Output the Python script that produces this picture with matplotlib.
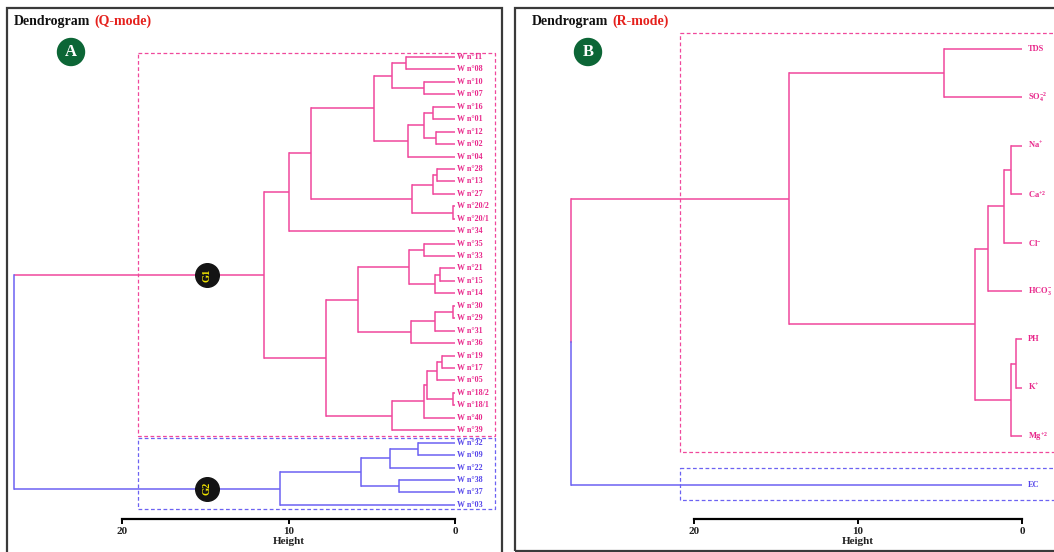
import matplotlib
matplotlib.use("Agg")
import matplotlib.pyplot as plt
import matplotlib.transforms as mtransforms
from matplotlib.patches import Rectangle, Circle

plt.rcParams['font.family'] = ['Liberation Serif', 'DejaVu Serif']
plt.rcParams['font.weight'] = 'bold'
plt.rcParams['mathtext.fontset'] = 'custom'
plt.rcParams['mathtext.rm'] = 'Liberation Serif:bold'
plt.rcParams['mathtext.it'] = 'Liberation Serif:bold'
plt.rcParams['mathtext.bf'] = 'Liberation Serif:bold'

# Q-mode (wells) leaves, top to bottom, and merges (left, right, height)
q_leaves = ['W n°11', 'W n°08', 'W n°10', 'W n°07', 'W n°16', 'W n°01', 'W n°12', 'W n°02',
            'W n°04', 'W n°28', 'W n°13', 'W n°27', 'W n°20/2', 'W n°20/1', 'W n°34',
            'W n°35', 'W n°33', 'W n°21', 'W n°15', 'W n°14', 'W n°30', 'W n°29', 'W n°31',
            'W n°36', 'W n°19', 'W n°17', 'W n°05', 'W n°18/2', 'W n°18/1', 'W n°40',
            'W n°39', 'W n°32', 'W n°09', 'W n°22', 'W n°38', 'W n°37', 'W n°03']
q_group2 = ['W n°32', 'W n°09', 'W n°22', 'W n°38', 'W n°37', 'W n°03']
q_merges = [
    ('W n°11', 'W n°08', 2.94), ('W n°10', 'W n°07', 1.84), (0, 1, 3.80),
    ('W n°16', 'W n°01', 1.30), ('W n°12', 'W n°02', 1.14), (3, 4, 1.84),
    (5, 'W n°04', 2.80), (2, 6, 4.86), ('W n°28', 'W n°13', 1.10),
    (8, 'W n°27', 1.30), ('W n°20/2', 'W n°20/1', 0.14), (9, 10, 2.60),
    (7, 11, 8.65), (12, 'W n°34', 10.0), ('W n°35', 'W n°33', 1.86),
    ('W n°21', 'W n°15', 0.90), (15, 'W n°14', 1.20), (14, 16, 2.76),
    ('W n°30', 'W n°29', 0.14), (18, 'W n°31', 1.20), (19, 'W n°36', 2.66),
    (17, 20, 5.83), ('W n°19', 'W n°17', 0.80), (22, 'W n°05', 1.06),
    ('W n°18/2', 'W n°18/1', 0.14), (23, 24, 1.66), (25, 'W n°40', 1.86),
    (26, 'W n°39', 3.77), (21, 27, 7.75), (13, 28, 11.5),
    ('W n°32', 'W n°09', 2.20), (30, 'W n°22', 3.90), ('W n°38', 'W n°37', 3.36),
    (31, 32, 5.65), (33, 'W n°03', 10.5), (29, 34, 26.5)]

# R-mode (parameters)
r_leaves = ['TDS', 'SO$_4^{-2}$', 'Na$^{+}$', 'Ca$^{+2}$', 'Cl$^{-}$', 'HCO$_3^{-}$',
            'PH', 'K$^{+}$', 'Mg$^{+2}$', 'EC']
r_group2 = ['EC']
r_merges = [
    ('TDS', 'SO$_4^{-2}$', 4.75), ('Na$^{+}$', 'Ca$^{+2}$', 0.69), (1, 'Cl$^{-}$', 1.10),
    (2, 'HCO$_3^{-}$', 2.05), ('PH', 'K$^{+}$', 0.37), (4, 'Mg$^{+2}$', 0.69),
    (3, 5, 2.87), (0, 6, 14.2), (7, 'EC', 27.5)]

height_ticks = [20, 10, 0]

PINK = '#F0489C'
PINK_TXT = '#E8268A'
BLUE = '#6C62F2'
BLUE_TXT = '#5646EA'
GREEN = '#0C6636'
W, H = 1054, 552

fig = plt.figure(figsize=(W / 100, H / 100), dpi=100)


def px_axes(x0, y0, x1, y1):
    return fig.add_axes([x0 / W, 1 - y1 / H, (x1 - x0) / W, (y1 - y0) / H])


def dendro(ax, leaves, merges, group2, fs, root_pink_frac, dx):
    pos = {name: i for i, name in enumerate(leaves)}
    info = {}  # node -> (y, height, is_group2)
    for name in leaves:
        info[name] = (pos[name], 0.0, name in group2)
    for k, (a, b, h) in enumerate(merges):
        ya, ha, ga = info[a]
        yb, hb, gb = info[b]
        ca = BLUE if ga else PINK
        cb = BLUE if gb else PINK
        ax.plot([ha, h], [ya, ya], color=ca, lw=1.1, solid_capstyle='butt')
        ax.plot([hb, h], [yb, yb], color=cb, lw=1.1, solid_capstyle='butt')
        if k == len(merges) - 1:
            # root link: split colour between the two groups
            ym = ya + (yb - ya) * root_pink_frac
            ax.plot([h, h], [ya, ym], color=PINK, lw=1.1)
            ax.plot([h, h], [ym, yb], color=BLUE, lw=1.1)
        else:
            ax.plot([h, h], [ya, yb], color=BLUE if ga else PINK, lw=1.1)
        info[k] = ((ya + yb) / 2, h, ga and gb)
    for name in leaves:
        ax.text(-dx, pos[name], name, color=BLUE_TXT if name in group2 else PINK_TXT,
                fontsize=fs, fontweight='bold', va='center', ha='left')
    return info


def style_axis(ax):
    for s in ['top', 'left', 'right']:
        ax.spines[s].set_visible(False)
    ax.spines['bottom'].set_bounds(0, 20)
    ax.spines['bottom'].set_linewidth(1.6)
    ax.set_xticks(height_ticks)
    ax.set_xticklabels([str(t) for t in height_ticks], fontsize=8, fontweight='bold', color='#222222')
    ax.tick_params(axis='x', direction='out', length=3.5, width=1.4, pad=2)
    ax.set_yticks([])
    ax.set_xlabel('Height', fontsize=8, fontweight='bold', color='#222222')
    trans = mtransforms.blended_transform_factory(ax.transData, ax.transAxes)
    ax.xaxis.set_label_coords(10, -0.036, transform=trans)
    ax.patch.set_alpha(0)


# ---- Panel A (Q-mode) ----
axA = px_axes(7, 8, 503, 519)
xs, x0 = 16.65, 455
axA.set_xlim((x0 - 7) / xs, (x0 - 503) / xs)
axA.set_ylim((519 - 57) / 12.44, (8 - 57) / 12.44)
infoA = dendro(axA, q_leaves, q_merges, q_group2, 5.8, 0.0, 0.12)
axA.add_patch(Rectangle((19.04, -0.32), -21.45, 30.8, fill=False, ec=PINK, lw=0.9, ls=(0, (3, 2))))
axA.add_patch(Rectangle((19.04, 30.62), -21.45, 5.72, fill=False, ec=BLUE, lw=0.9, ls=(0, (3, 2))))
g1_y = infoA[29][0]
g2_y = infoA[34][0]
for yy, lab in [(g1_y, 'G1'), (g2_y, 'G2')]:
    axA.plot([14.9], [yy], 'o', ms=17, color='#141414', zorder=5)
    axA.text(14.9, yy, lab, color='#F2E600', fontsize=7.5, fontweight='bold', rotation=90,
             ha='center', va='center', zorder=6)
style_axis(axA)

# ---- Panel B (R-mode) ----
axB = px_axes(515, 8, 1054, 519)
xs, x0 = 16.4, 1022
axB.set_xlim((x0 - 515) / xs, (x0 - 1054) / xs)
axB.set_ylim((519 - 49) / 48.4, (8 - 49) / 48.4)
dendro(axB, r_leaves, r_merges, r_group2, 6.0, 0.5, 0.36)
axB.add_patch(Rectangle((20.85, -0.33), -23.5, 8.66, fill=False, ec=PINK, lw=0.9, ls=(0, (3, 2))))
axB.add_patch(Rectangle((20.85, 8.66), -23.5, 0.66, fill=False, ec=BLUE, lw=0.9, ls=(0, (3, 2))))
style_axis(axB)

# ---- frames, titles, badges ----
fig.add_artist(Rectangle((7 / W, -0.05), 495 / W, 1.05 - 8 / H, transform=fig.transFigure,
                         fill=False, ec='#3a3a3a', lw=1.6))
fig.add_artist(Rectangle((515 / W, 1 - 551 / H), 560 / W, 543 / H, transform=fig.transFigure,
                         fill=False, ec='#3a3a3a', lw=1.6))

for tx, red, bx, letter in [(14, '(Q-mode)', 71, 'A'), (532, '(R-mode)', 588, 'B')]:
    t1 = fig.text(tx / W, 1 - 25 / H, 'Dendrogram', fontsize=10, fontweight='bold', color='#111111')
    fig.add_artist(plt.Annotation(red, xy=(1, 0), xycoords=t1, xytext=(3, 0),
                                  textcoords='offset points', fontsize=10, fontweight='bold',
                                  color='#E5201C', va='bottom', ha='left'))
    fig.add_artist(Circle((bx / 100, (H - 52) / 100), 0.135, transform=fig.dpi_scale_trans,
                          color=GREEN))
    fig.text(bx / W, 1 - 52 / H, letter, fontsize=12, fontweight='bold', color='white',
             ha='center', va='center')

fig.savefig('out.png', dpi=100)
